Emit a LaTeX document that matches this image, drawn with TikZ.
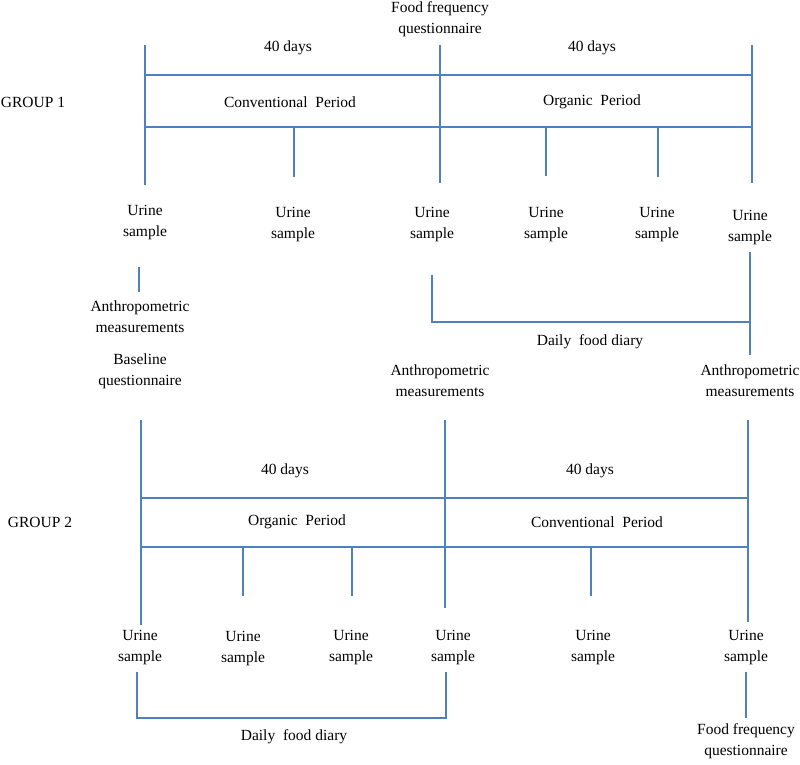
\documentclass[tikz,border=0pt]{standalone}
\usepackage{fontspec}
\setmainfont{Liberation Serif}
\definecolor{lineblue}{RGB}{79,129,189}
\begin{document}
\begin{tikzpicture}[x=1pt,y=-1pt,
  ln/.style={draw=lineblue,line width=1.2pt},
  lbl/.style={inner sep=0pt,align=center,font=\fontsize{15.5}{21}\selectfont}]
\useasboundingbox (0,0) rectangle (800,765);
% ---------- GROUP 1 ----------
\node[lbl] (g1) at (33,102) {GROUP 1};
\node[lbl] (ffq1) at (440,19) {Food frequency\\questionnaire};
\node[lbl] (d1a) at (288,48) {40 days};
\node[lbl] (d1b) at (592,48) {40 days};
\node[lbl] (cp1) at (290,102) {Conventional\ \ Period};
\node[lbl] (op1) at (592,102) {Organic\ \ Period};
\coordinate (a1t) at (145,45);  \coordinate (a1b) at (145,185);
\coordinate (m1t) at (440,45);  \coordinate (m1b) at (440,183);
\coordinate (r1t) at (752,45);  \coordinate (r1b) at (752,183);
\coordinate (h1l) at (145,75);  \coordinate (h1r) at (752,75);
\coordinate (k1l) at (145,127); \coordinate (k1r) at (752,127);
\coordinate (t1a) at (294,127); \coordinate (t1ab) at (294,177);
\coordinate (t1b) at (546,127); \coordinate (t1bb) at (546,176);
\coordinate (t1c) at (658,127); \coordinate (t1cb) at (658,177);
\draw[ln] (a1t) -- (a1b);
\draw[ln] (m1t) -- (m1b);
\draw[ln] (r1t) -- (r1b);
\draw[ln] (h1l) -- (h1r);
\draw[ln] (k1l) -- (k1r);
\draw[ln] (t1a) -- (t1ab);
\draw[ln] (t1b) -- (t1bb);
\draw[ln] (t1c) -- (t1cb);
\node[lbl] (u11) at (145,223) {Urine\\sample};
\node[lbl] (u12) at (293,225) {Urine\\sample};
\node[lbl] (u13) at (432,225) {Urine\\sample};
\node[lbl] (u14) at (546,225) {Urine\\sample};
\node[lbl] (u15) at (657,225) {Urine\\sample};
\node[lbl] (u16) at (750,228) {Urine\\sample};
\coordinate (v1t) at (139,267); \coordinate (v1b) at (139,292);
\draw[ln] (v1t) -- (v1b);
\node[lbl] (am0) at (140,317) {Anthropometric\\measurements};
\node[lbl] (bq) at (140,371) {Baseline\\questionnaire};
% daily food diary bracket group 1
\coordinate (f1l) at (432,275); \coordinate (f1lc) at (432,322);
\coordinate (f1rc) at (750,322); \coordinate (f1rt) at (750,252);
\coordinate (f1rb) at (750,355);
\draw[ln] (f1l) -- (f1lc) -- (f1rc);
\draw[ln] (f1rt) -- (f1rb);
\node[lbl] (dfd1) at (590,342) {Daily\ \ food diary};
\node[lbl] (am1) at (440,381) {Anthropometric\\measurements};
\node[lbl] (am2) at (750,381) {Anthropometric\\measurements};
% ---------- GROUP 2 ----------
\node[lbl] (g2) at (40,522) {GROUP 2};
\node[lbl] (d2a) at (285,471) {40 days};
\node[lbl] (d2b) at (590,471) {40 days};
\node[lbl] (op2) at (297,522) {Organic\ \ Period};
\node[lbl] (cp2) at (597,522) {Conventional\ \ Period};
\coordinate (a2t) at (141,420);  \coordinate (a2b) at (141,625);
\coordinate (m2t) at (445,420);  \coordinate (m2b) at (445,608);
\coordinate (r2t) at (748,420);  \coordinate (r2b) at (748,622);
\coordinate (h2l) at (141,498);  \coordinate (h2r) at (748,498);
\coordinate (k2l) at (141,547);  \coordinate (k2r) at (748,547);
\coordinate (t2a) at (243,547); \coordinate (t2ab) at (243,596);
\coordinate (t2b) at (352,547); \coordinate (t2bb) at (352,596);
\coordinate (t2c) at (591,547); \coordinate (t2cb) at (591,596);
\draw[ln] (a2t) -- (a2b);
\draw[ln] (m2t) -- (m2b);
\draw[ln] (r2t) -- (r2b);
\draw[ln] (h2l) -- (h2r);
\draw[ln] (k2l) -- (k2r);
\draw[ln] (t2a) -- (t2ab);
\draw[ln] (t2b) -- (t2bb);
\draw[ln] (t2c) -- (t2cb);
\node[lbl] (u21) at (140,648) {Urine\\sample};
\node[lbl] (u22) at (243,649) {Urine\\sample};
\node[lbl] (u23) at (351,648) {Urine\\sample};
\node[lbl] (u24) at (453,648) {Urine\\sample};
\node[lbl] (u25) at (593,648) {Urine\\sample};
\node[lbl] (u26) at (746,648) {Urine\\sample};
% daily food diary bracket group 2
\coordinate (f2lt) at (137,672); \coordinate (f2lc) at (137,718);
\coordinate (f2rc) at (446,718); \coordinate (f2rt) at (446,672);
\draw[ln] (f2lt) -- (f2lc) -- (f2rc) -- (f2rt);
\node[lbl] (dfd2) at (294,737) {Daily\ \ food diary};
\coordinate (v2t) at (746,672); \coordinate (v2b) at (746,718);
\draw[ln] (v2t) -- (v2b);
\node[lbl] (ffq2) at (746,741) {Food frequency\\questionnaire};
\end{tikzpicture}
\end{document}
